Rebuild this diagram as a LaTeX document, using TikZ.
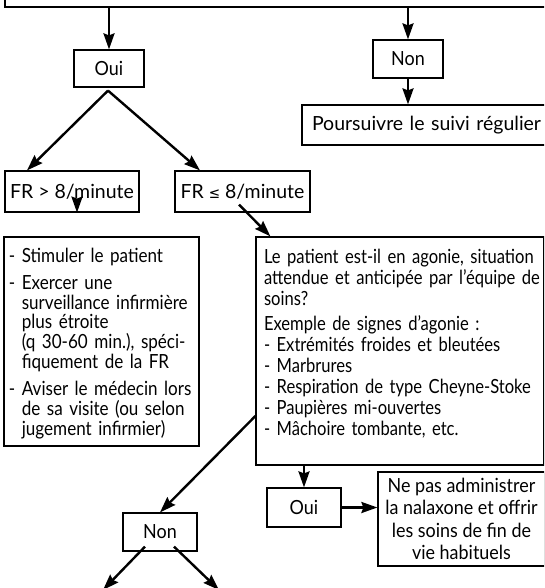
\documentclass[tikz,border=0pt]{standalone}
\usepackage{fontspec}
\setmainfont{Lato}[FakeStretch=0.92]
\newfontfamily\frfont{Lato}[FakeStretch=1.0]
\newfontfamily\leftfont{Lato}[FakeStretch=0.875]
\newfontfamily\bigfont{Lato}[FakeStretch=0.85]
\newfontfamily\symfont{DejaVu Sans}[FakeStretch=0.9]
\usetikzlibrary{arrows.meta,calc}
\newcommand\ligne[1]{\mbox{#1}}
\begin{document}
\begin{tikzpicture}[x=1pt,y=-1pt,
  font=\fontsize{19.5}{20.5}\selectfont,
  box/.style={draw, line width=1.2pt, inner sep=0pt, rectangle},
  arr/.style={-{Stealth[length=16pt,width=11pt,inset=2pt]}, line width=2.4pt}]
\useasboundingbox (0,0) rectangle (544,588);
\clip (0,0) rectangle (544,588);
% boxes
\node[box, minimum width=555pt, minimum height=37pt] (top) at (282.5,-11.5) {};
\node[box, minimum width=70pt, minimum height=37pt] (oui1) at (109,68.5) {Oui};
\node[box, minimum width=70pt, minimum height=38pt] (non1) at (408,59) {Non};
\node[box, minimum width=240pt, minimum height=40pt, text width=226pt, inner xsep=10pt, align=left, font=\frfont\fontsize{19.5}{20.5}\selectfont] (pours) at (425,125) {\ligne{Poursuivre le suivi régulier}};
\node[box, minimum width=134pt, minimum height=41pt, font=\frfont\fontsize{19.5}{20.5}\selectfont] (frgt) at (72,191.5) {FR > 8/minute};
\node[box, minimum width=135pt, minimum height=41pt, font=\frfont\fontsize{19.5}{20.5}\selectfont] (frle) at (242.5,191.5) {FR {\symfont\fontsize{15}{15}\selectfont ≤} 8/minute};
\node[box, minimum width=193pt, minimum height=209pt, text width=185pt, inner xsep=5pt, inner ysep=0pt, align=left, text height=25pt, text depth=184pt, font=\leftfont\fontsize{19.5}{19.8}\selectfont] (lbox) at (101.5,341.5) {%
\ligne{- Stimuler le patient}\\[7.5pt]
\ligne{- Exercer une}\\
\ligne{\phantom{- }surveillance infirmière}\\
\ligne{\phantom{- }plus étroite}\\
\ligne{\phantom{- }(q 30-60 min.), spéci-}\\
\ligne{\phantom{- }fiquement de la FR}\\[7.5pt]
\ligne{- Aviser le médecin lors}\\
\ligne{\phantom{- }de sa visite (ou selon}\\
\ligne{\phantom{- }jugement infirmier)}};
\node[box, minimum width=286pt, minimum height=228pt, text width=272pt, inner xsep=8pt, inner ysep=0pt, align=left, text height=26pt, text depth=202pt, font=\bigfont\fontsize{19.5}{21}\selectfont] (big) at (400,351) {%
\ligne{Le patient est-il en agonie, situation}\\
\ligne{attendue et anticipée par l’équipe de}\\
\ligne{soins?}\\[4pt]
\ligne{Exemple de signes d’agonie :}\\
\ligne{- Extrémités froides et bleutées}\\
\ligne{- Marbrures}\\
\ligne{- Respiration de type Cheyne-Stoke}\\
\ligne{- Paupières mi-ouvertes}\\
\ligne{- Mâchoire tombante, etc.}};
\node[box, minimum width=74pt, minimum height=39pt] (oui2) at (304,507.5) {Oui};
\node[box, minimum width=167pt, minimum height=94pt, align=center, font=\fontsize{19.5}{22.5}\selectfont] (nepas) at (461.5,519) {Ne pas administrer\\la nalaxone et offrir\\les soins de fin de\\vie habituels};
\node[box, minimum width=74pt, minimum height=38pt] (non2) at (160,532) {Non};
% free ends
\coordinate (d1) at (103,590);
\coordinate (d2) at (219,590);
% connectors
\draw[arr] (oui1.north |- top.south) -- (oui1.north);
\draw[arr] (non1.north |- top.south) -- (non1.north);
\draw[arr] (non1.south) -- (non1.south |- pours.north);
\draw[arr] ($(oui1.south)+(-1,3)$) -- ($(frgt.north)+(-45,0)$);
\draw[arr] ($(oui1.south)+(-1,3)$) -- ($(frle.north)+(-42.5,0)$);
\draw[arr] ($(frgt.south)+(5,-7)$) -- ($(frgt.south)+(5,0)$ |- lbox.north);
\draw[arr] ($(frle.south)+(-3.5,-8)$) -- ($(big.north west)+(15,0)$);
\draw[arr] ($(big.west)+(0,65)$) -- (non2.north);
\draw[arr] (oui2.north |- big.south) -- (oui2.north);
\draw[arr] (oui2.east) -- (oui2.east -| nepas.west);
\draw[arr] ($(non2.south)+(-15,-5)$) -- (d1);
\draw[arr] ($(non2.south)+(14,-5)$) -- (d2);
\end{tikzpicture}
\end{document}
